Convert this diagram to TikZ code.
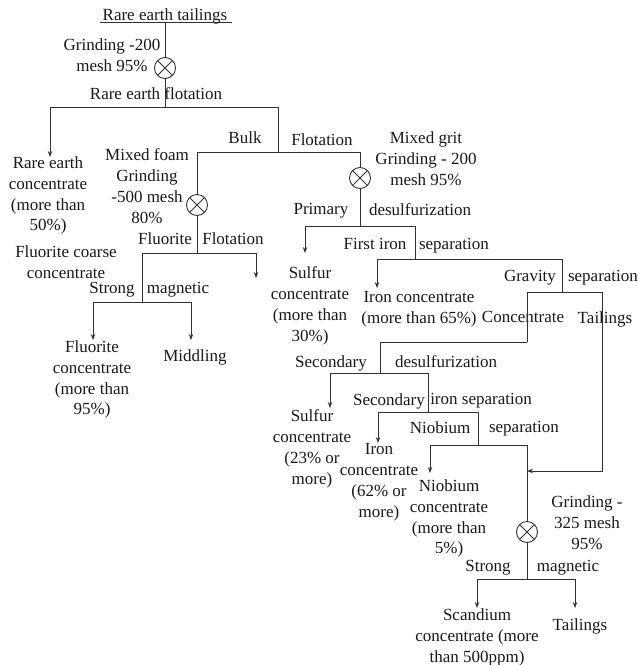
\documentclass[tikz,border=0pt]{standalone}
\usepackage{fontspec}
\setmainfont{Liberation Serif}
\usetikzlibrary{arrows.meta}
\begin{document}
\begin{tikzpicture}[x=1pt,y=-1pt,
  line/.style={draw=black!80, line width=0.9pt},
  arr/.style={line, -{Stealth[length=6pt,width=4.5pt]}},
  lbl/.style={inner sep=0pt, font=\fontsize{17}{20.8}\selectfont, align=center, anchor=north, text=black!90},
  mill/.style={circle, draw=black!80, line width=0.9pt, minimum size=21pt, inner sep=0pt},
]
\useasboundingbox (0,0) rectangle (638,665);

% ---------- labels (anchor north = first line centre - 6.5)
\node[lbl] (title)   at (165,8.5)   {Rare earth tailings};
\node[lbl] (grind1)  at (112,38.5)  {Grinding -200\\mesh 95\%};
\node[lbl] (ref)     at (156,87.5)  {Rare earth flotation};
\node[lbl] (rec)     at (48,156.5)  {Rare earth\\concentrate\\(more than\\50\%)};
\node[lbl] (bulk)    at (245,131.5) {Bulk};
\node[lbl] (flot1)   at (322,133.5) {Flotation};
\node[lbl] (foam)    at (147,148.5) {Mixed foam\\Grinding\\-500 mesh\\80\%};
\node[lbl] (fluor)   at (165,232.5) {Fluorite};
\node[lbl] (flot2)   at (233,232.5) {Flotation};
\node[lbl] (fcc)     at (66,245.5)  {Fluorite coarse\\concentrate};
\node[lbl] (strong1) at (112,282.5) {Strong};
\node[lbl] (mag1)    at (178,282.5) {magnetic};
\node[lbl] (fc)      at (92,340.5)  {Fluorite\\concentrate\\(more than\\95\%)};
\node[lbl] (midd)    at (195,349.5) {Middling};
\node[lbl] (grit)    at (426,131.5) {Mixed grit\\Grinding - 200\\mesh 95\%};
\node[lbl] (prim)    at (321,203.5) {Primary};
\node[lbl] (desulf1) at (420,203.5) {desulfurization};
\node[lbl] (sc1)     at (310,266.5) {Sulfur\\concentrate\\(more than\\30\%)};
\node[lbl] (firon)   at (375,238.5) {First iron};
\node[lbl] (sep1)    at (454,238.5) {separation};
\node[lbl] (ic1)     at (419,291.5) {Iron concentrate\\(more than 65\%)};
\node[lbl] (grav)    at (530,270.5) {Gravity};
\node[lbl] (sep2)    at (603,270.5) {separation};
\node[lbl] (conc)    at (523,311.5) {Concentrate};
\node[lbl] (tail1)   at (605,311.5) {Tailings};
\node[lbl] (sec1)    at (331,355.5) {Secondary};
\node[lbl] (desulf2) at (446,355.5) {desulfurization};
\node[lbl] (sec2)    at (389,393.5) {Secondary};
\node[lbl] (ironsep) at (481,393.5) {iron separation};
\node[lbl] (sc2)     at (312,409.5) {Sulfur\\concentrate\\(23\% or\\more)};
\node[lbl] (niob)    at (440,421.5) {Niobium};
\node[lbl] (sep3)    at (524,421.5) {separation};
\node[lbl] (ic2)     at (379,443.5) {Iron\\concentrate\\(62\% or\\more)};
\node[lbl] (nc)      at (449,479.5) {Niobium\\concentrate\\(more than\\5\%)};
\node[lbl] (grind4)  at (587,495.5) {Grinding -\\325 mesh\\95\%};
\node[lbl] (strong2) at (488,560.5) {Strong};
\node[lbl] (mag2)    at (568,560.5) {magnetic};
\node[lbl] (scand)   at (477,608.5) {Scandium\\concentrate (more\\than 500ppm)};
\node[lbl] (tail2)   at (580,618.5) {Tailings};

% ---------- grinding mills
\node[mill] (c1) at (165,68) {};
\node[mill] (c2) at (197,205) {};
\node[mill] (c3) at (360,178) {};
\node[mill] (c4) at (527,532) {};
\foreach \c in {c1,c2,c3,c4}{
  \draw[line] (\c.north west) -- (\c.south east) (\c.north east) -- (\c.south west);
}

% ---------- junction coordinates
\coordinate (ul1) at (100,22);  \coordinate (ul2) at (232,22);
\coordinate (t0) at (165,22);
\coordinate (j1) at (165,107); \coordinate (j1l) at (50,107); \coordinate (j1r) at (278,107);
\coordinate (a1) at (50,157);
\coordinate (j2) at (278,152); \coordinate (j2l) at (197,152); \coordinate (j2r) at (360,152);
\coordinate (j3) at (197,253); \coordinate (j3l) at (142,253); \coordinate (j3r) at (256,253);
\coordinate (a3) at (256,278);
\coordinate (j4) at (142,302); \coordinate (j4l) at (93,302); \coordinate (j4r) at (191,302);
\coordinate (a4l) at (93,340); \coordinate (a4r) at (191,340);
\coordinate (j5) at (360,226); \coordinate (j5l) at (305,226); \coordinate (j5r) at (415,226);
\coordinate (a5) at (305,253);
\coordinate (j6) at (415,259); \coordinate (j6l) at (377,259); \coordinate (j6r) at (562,259);
\coordinate (a6) at (377,288);
\coordinate (j7) at (562,292); \coordinate (j7l) at (527,292); \coordinate (j7r) at (602,292);
\coordinate (j8) at (527,342); \coordinate (j8l) at (380,342);
\coordinate (j9) at (380,373); \coordinate (j9l) at (330,373); \coordinate (j9r) at (428,373);
\coordinate (a9) at (330,408);
\coordinate (j10) at (428,412); \coordinate (j10l) at (378,412); \coordinate (j10r) at (478,412);
\coordinate (a10) at (378,443);
\coordinate (j11) at (478,445); \coordinate (j11l) at (430,445); \coordinate (j11r) at (527,445);
\coordinate (a11) at (430,473);
\coordinate (m1) at (527,471);
\coordinate (j12) at (527,579); \coordinate (j12l) at (477,579); \coordinate (j12r) at (575,579);
\coordinate (a12l) at (477,608); \coordinate (a12r) at (575,608);

% ---------- connectors
\draw[line] (ul1) -- (ul2);
\draw[line] (t0) -- (c1);
\draw[line] (c1) -- (j1);
\draw[line] (j1l) -- (j1r);
\draw[arr]  (j1l) -- (a1);
\draw[line] (j1r) -- (j2);
\draw[line] (j2l) -- (j2r);
% bulk foam branch
\draw[line] (j2l) -- (c2);
\draw[line] (c2) -- (j3);
\draw[line] (j3l) -- (j3r);
\draw[arr]  (j3r) -- (a3);
\draw[line] (j3l) -- (j4);
\draw[line] (j4l) -- (j4r);
\draw[arr]  (j4l) -- (a4l);
\draw[arr]  (j4r) -- (a4r);
% mixed grit branch
\draw[line] (j2r) -- (c3);
\draw[line] (c3) -- (j5);
\draw[line] (j5l) -- (j5r);
\draw[arr]  (j5l) -- (a5);
\draw[line] (j5r) -- (j6);
\draw[line] (j6l) -- (j6r);
\draw[arr]  (j6l) -- (a6);
\draw[line] (j6r) -- (j7);
\draw[line] (j7l) -- (j7r);
\draw[arr]  (j7r) |- (m1);
\draw[line] (j7l) -- (j8);
\draw[line] (j8l) -- (j8);
\draw[line] (j8l) -- (j9);
\draw[line] (j9l) -- (j9r);
\draw[arr]  (j9l) -- (a9);
\draw[line] (j9r) -- (j10);
\draw[line] (j10l) -- (j10r);
\draw[arr]  (j10l) -- (a10);
\draw[line] (j10r) -- (j11);
\draw[line] (j11l) -- (j11r);
\draw[arr]  (j11l) -- (a11);
\draw[line] (j11r) -- (c4);
\draw[line] (c4) -- (j12);
\draw[line] (j12l) -- (j12r);
\draw[arr]  (j12l) -- (a12l);
\draw[arr]  (j12r) -- (a12r);
\end{tikzpicture}
\end{document}
